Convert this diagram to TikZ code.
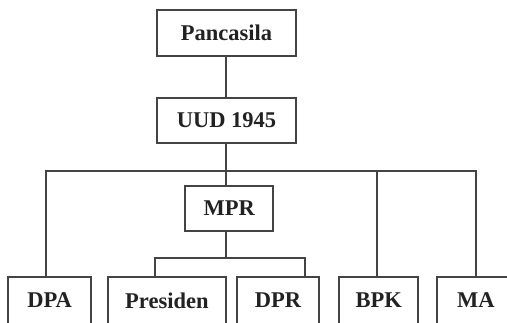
\documentclass[tikz,border=0pt]{standalone}
\usepackage{fontspec}
\setmainfont{Liberation Serif}
\definecolor{linec}{HTML}{444444}
\definecolor{textc}{HTML}{222222}
\begin{document}
\begin{tikzpicture}[x=1pt,y=-1pt,
  box/.style={draw=linec,line width=1.7pt,rectangle,inner sep=0pt,
    font=\fontsize{22.5}{24}\selectfont\bfseries,text=textc},
  conn/.style={draw=linec,line width=1.7pt}]
\useasboundingbox (0,0) rectangle (507,322);
\fill[white] (0,0) rectangle (507,322);
\clip (0,0) rectangle (507,322);
% top boxes
\node[box,minimum width=138.4pt,minimum height=45.7pt] (pan) at (226.5,33.15) {Pancasila};
\node[box,minimum width=138.4pt,minimum height=45.6pt] (uud) at (226.5,120.5) {UUD 1945};
\node[box,minimum width=88.3pt,minimum height=45.3pt] (mpr) at (229.15,208.35) {MPR};
% bottom row (bottom edges fall outside the picture)
\tikzset{bot/.style={box,minimum height=50pt}}
\node[bot,minimum width=82.7pt] (dpa) at (49.65,302.3) {\raisebox{4pt}{DPA}};
\node[bot,minimum width=118.3pt] (pres) at (166.85,302.3) {\raisebox{4pt}{Presiden}};
\node[bot,minimum width=82.6pt] (dpr) at (278,302.3) {\raisebox{4pt}{DPR}};
\node[bot,minimum width=79.3pt] (bpk) at (378.65,302.3) {\raisebox{4pt}{BPK}};
\node[bot,minimum width=78.3pt] (ma) at (475.85,302.3) {\raisebox{4pt}{MA}};
% bus coordinates
\coordinate (busA) at (226,171);
\coordinate (busB) at (226,257.7);
% connectors
\draw[conn] (pan.south -| busA) -- (uud.north -| busA);
\draw[conn] (uud.south -| busA) -- (mpr.north -| busA);
\draw[conn] (dpa.north -| 46,0) |- (busA) -| (ma.north -| 476,0);
\draw[conn] (busA -| 377,0) -- (bpk.north -| 377,0);
\draw[conn] (mpr.south -| busB) -- (busB);
\draw[conn] (pres.north -| 155,0) |- (busB) -| (dpr.north -| 305,0);
\end{tikzpicture}
\end{document}
